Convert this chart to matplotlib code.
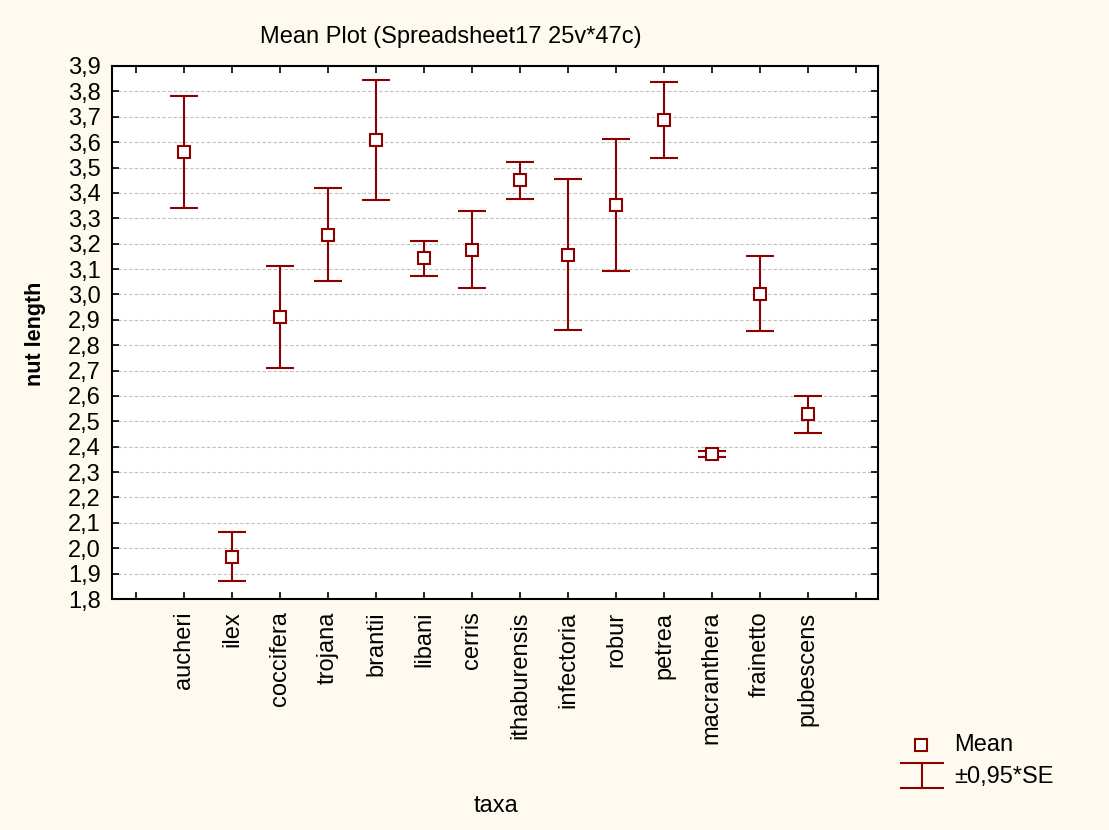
import numpy as np
import matplotlib.pyplot as plt
from matplotlib.lines import Line2D

plt.rcParams['font.family'] = ['Liberation Sans', 'DejaVu Sans']

taxa = ["aucheri", "ilex", "coccifera", "trojana", "brantii", "libani", "cerris",
        "ithaburensis", "infectoria", "robur", "petrea", "macranthera",
        "frainetto", "pubescens"]
means = [3.561, 1.967, 2.912, 3.236, 3.608, 3.142, 3.176,
         3.450, 3.157, 3.354, 3.687, 2.370, 3.002, 2.527]
err = [0.220, 0.097, 0.200, 0.183, 0.237, 0.069, 0.152,
       0.073, 0.298, 0.260, 0.150, 0.012, 0.148, 0.071]

red = "#8b0000"
bg = "#fefaef"
W, H = 1109, 830

fig = plt.figure(figsize=(W / 100, H / 100), dpi=100, facecolor=bg)
ax = fig.add_axes([0.101, 0.2783, 0.6907, 0.6422])
ax.set_facecolor("white")

x = np.arange(1, len(taxa) + 1)
ax.errorbar(x, means, yerr=err, fmt="none", ecolor=red, elinewidth=1.5,
            capsize=10, capthick=1.5, zorder=3)
ax.plot(x, means, "s", ms=8.5, mfc="white", mec=red, mew=1.5, zorder=4)

ax.set_xlim(-0.5, 15.46)
ax.set_ylim(1.8, 3.9)
ax.set_xticks(np.arange(0, 16))
ax.set_xticklabels([""] + taxa + [""], rotation=90, fontsize=17)
yt = np.round(np.arange(1.8, 3.91, 0.1), 1)
ax.set_yticks(yt)
ax.set_yticklabels([f"{v:.1f}".replace(".", ",") for v in yt], fontsize=17)
ax.tick_params(direction="in", length=5, width=1.2, top=True, right=True)
ax.tick_params(axis="y", pad=8)
ax.tick_params(axis="x", pad=9)
ax.grid(axis="y", linestyle=(0, (3, 2)), color="#c0c0c0", linewidth=0.8)
ax.set_axisbelow(True)
for s in ax.spines.values():
    s.set_linewidth(1.5)

fig.text(451 / W, 1 - 37 / H, "Mean Plot (Spreadsheet17 25v*47c)",
         ha="center", va="center", fontsize=17)
fig.text(35 / W, 1 - 334 / H, "nut length", rotation=90, ha="center",
         va="center", fontsize=15.5, fontweight="bold")
fig.text(496 / W, 1 - 806 / H, "taxa", ha="center", va="center", fontsize=17)

# legend drawn by hand: square for the mean, I-beam for the error bar
def px(xp, yp):
    return xp / W, 1 - yp / H

fig.add_artist(Line2D(*zip(px(921, 745)), ls="none", marker="s", ms=8,
                      mfc="white", mec=red, mew=1.5))
for xs, ys in [((901, 943), (763, 763)), ((901, 943), (788, 788)),
               ((922, 922), (763, 788))]:
    fig.add_artist(Line2D(*zip(px(xs[0], ys[0]), px(xs[1], ys[1])),
                          color=red, lw=1.5))
fig.text(954 / W, 1 - 745 / H, "Mean", ha="left", va="center", fontsize=17)
fig.text(954 / W, 1 - 777 / H, "\u00b10,95*SE", ha="left", va="center",
         fontsize=17)

fig.savefig("out.png", dpi=100, facecolor=bg)
